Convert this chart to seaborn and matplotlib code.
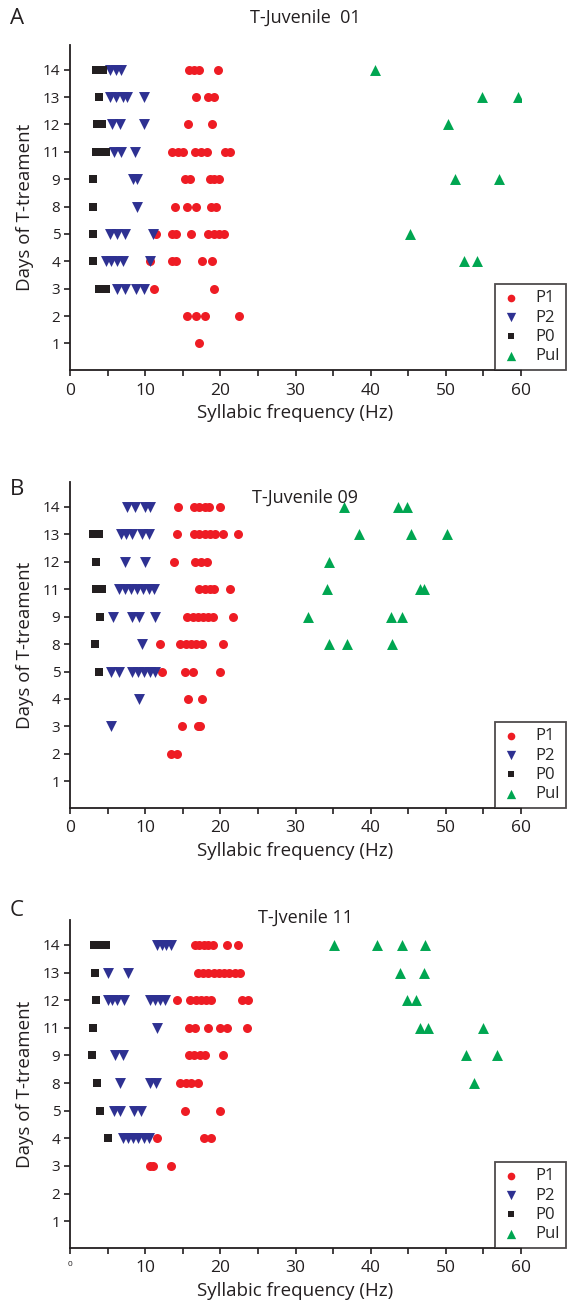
import matplotlib
matplotlib.use("Agg")
import matplotlib.pyplot as plt
import pandas as pd
import seaborn as sns

# day labels shown on the y axis (categorical, evenly spaced)
days = [1, 2, 3, 4, 5, 8, 9, 11, 12, 13, 14]

series_names = ["P1", "P2", "P0", "Pul"]
series_colors = {"P1": "#ee1c24", "P2": "#2e3192", "P0": "#231f20", "Pul": "#00a651"}
series_markers = {"P1": "o", "P2": "v", "P0": "s", "Pul": "^"}
series_sizes = {"P1": 42, "P2": 62, "P0": 34, "Pul": 62}

# ---- panel A : T-Juvenile 01 (syllabic frequency in Hz per day)
a_p1 = {14: [15.8, 16.5, 17.2, 19.7], 13: [16.7, 18.4, 19.2], 12: [15.7, 18.9],
        11: [13.6, 14.4, 15.0, 16.6, 17.4, 18.2, 20.6, 21.3],
        9: [15.3, 16.0, 18.6, 19.2, 19.8], 8: [14.0, 15.5, 16.8, 18.8, 19.4],
        5: [11.4, 13.6, 14.1, 16.1, 18.4, 19.1, 19.8, 20.5],
        4: [10.6, 13.6, 14.1, 17.5, 18.9], 3: [11.2, 19.1],
        2: [15.5, 16.8, 17.9, 22.5], 1: [17.2]}
a_p2 = {14: [5.3, 6.1, 6.8], 13: [5.3, 6.1, 7.0, 7.6, 9.8], 12: [5.6, 6.6, 9.8],
        11: [5.8, 6.8, 8.6], 9: [8.4, 8.9], 8: [8.9], 5: [5.3, 6.3, 7.3, 11.1],
        4: [4.8, 5.5, 6.3, 7.0, 10.6], 3: [6.3, 7.3, 8.8, 9.8]}
a_p0 = {14: [3.4, 4.4], 13: [3.8], 12: [3.6, 4.2], 11: [3.4, 4.1, 4.8], 9: [3.0],
        8: [3.0], 5: [3.0], 4: [3.0], 3: [3.9, 4.8]}
a_pul = {14: [40.6], 13: [54.8, 59.6], 12: [50.3], 9: [51.2, 57.1], 5: [45.2],
         4: [52.4, 54.1]}

# ---- panel B : T-Juvenile 09
b_p1 = {14: [14.4, 16.5, 17.2, 17.9, 18.5, 19.9],
        13: [14.3, 16.5, 17.2, 17.9, 18.6, 19.3, 20.4, 22.4],
        12: [13.9, 16.6, 17.4, 18.2], 11: [17.2, 17.9, 18.6, 19.2, 21.3],
        9: [15.6, 16.3, 17.0, 17.7, 18.4, 19.0, 21.7],
        8: [12.0, 14.7, 15.4, 16.1, 16.8, 17.5, 20.3],
        5: [12.3, 15.3, 16.4, 19.9], 4: [15.7, 17.5], 3: [14.9, 17.0, 17.3],
        2: [13.5, 14.3]}
b_p2 = {14: [7.6, 8.7, 10.0, 10.7], 13: [6.8, 7.5, 8.3, 9.6, 10.5], 12: [7.3, 10.0],
        11: [6.5, 7.3, 8.1, 8.9, 9.7, 10.5, 11.2], 9: [5.7, 8.3, 9.2, 11.3],
        8: [9.6], 5: [5.4, 6.5, 8.3, 9.1, 9.9, 10.7, 11.3], 4: [9.2], 3: [5.5]}
b_p0 = {13: [3.0, 3.8], 12: [3.5], 11: [3.4, 4.3], 9: [4.0], 8: [3.3], 5: [3.9]}
b_pul = {14: [36.5, 43.6, 44.9], 13: [38.4, 45.3, 50.1], 12: [34.4],
         11: [34.2, 46.6, 47.1], 9: [31.7, 42.7, 44.2], 8: [34.5, 36.8, 42.8]}

# ---- panel C : T-Jvenile 11
c_p1 = {14: [16.6, 17.2, 17.8, 18.4, 19.0, 20.9, 22.3],
        13: [17.0, 17.7, 18.4, 19.1, 19.8, 20.5, 21.2, 21.9, 22.6],
        12: [14.3, 16.0, 16.7, 17.4, 18.1, 18.7, 22.9, 23.7],
        11: [15.8, 16.6, 18.4, 20.0, 20.9, 23.5],
        9: [15.8, 16.5, 17.3, 18.0, 20.4], 8: [14.7, 15.4, 16.1, 17.0],
        5: [15.3, 19.9], 4: [11.6, 17.8, 18.7], 3: [10.6, 11.1, 13.5]}
c_p2 = {14: [11.6, 12.2, 12.8, 13.4], 13: [5.1, 7.7],
        12: [5.0, 5.6, 6.3, 7.2, 10.6, 11.3, 12.0, 12.6], 11: [11.6],
        9: [6.0, 7.0], 8: [6.7, 10.6, 11.4], 5: [5.9, 6.6, 8.5, 9.4],
        4: [7.0, 7.7, 8.4, 9.1, 9.8, 10.5]}
c_p0 = {14: [3.2, 4.0, 4.8], 13: [3.3], 12: [3.5], 11: [3.1], 9: [2.9], 8: [3.6],
        5: [4.0], 4: [5.1]}
c_pul = {14: [35.1, 40.9, 44.2, 47.2], 13: [43.9, 47.1], 12: [44.9, 46.0],
         11: [46.5, 47.6, 55.0], 9: [52.7, 56.8], 8: [53.7]}

panels = [
    ("A", "T-Juvenile  01", {"P1": a_p1, "P2": a_p2, "P0": a_p0, "Pul": a_pul}),
    ("B", "T-Juvenile 09", {"P1": b_p1, "P2": b_p2, "P0": b_p0, "Pul": b_pul}),
    ("C", "T-Jvenile 11", {"P1": c_p1, "P2": c_p2, "P0": c_p0, "Pul": c_pul}),
]

x_ticks = [0, 10, 20, 30, 40, 50, 60]


def to_frame(data):
    rows = []
    for name in series_names:
        for day, values in data[name].items():
            for hz in values:
                rows.append({"series": name, "day": day, "pos": days.index(day), "hz": hz})
    return pd.DataFrame(rows)


sns.set_style("white")
plt.rcParams["font.family"] = ["Open Sans", "DejaVu Sans"]

W, H = 568, 1301
fig = plt.figure(figsize=(W / 100, H / 100), dpi=100)

# pixel layout per panel: axis top, axis bottom, letter y, title y
boxes = [(45, 370, 18, 18), (482, 808, 490, 498), (920, 1248, 910, 918)]
x0_px, x1_px = 70, 521
ink = "#231f20"

for i, (letter, title, data) in enumerate(panels):
    top, bottom, letter_y, title_y = boxes[i]
    ax = fig.add_axes([x0_px / W, 1 - bottom / H, (x1_px - x0_px) / W, (bottom - top) / H])
    df = to_frame(data)
    for name in series_names:
        sub = df[df["series"] == name]
        sns.scatterplot(data=sub, x="hz", y="pos", ax=ax, color=series_colors[name],
                        marker=series_markers[name], s=series_sizes[name],
                        linewidth=0, label=name, zorder=3)
    ax.set_xlim(0, 60)
    ax.set_ylim(-0.97, 10.9)
    ax.set_yticks(range(len(days)))
    ax.set_yticklabels([str(d) for d in days], fontsize=11)
    ax.set_xticks(x_ticks)
    ax.set_xticks([5, 15, 25, 35, 45, 55], minor=True)
    ax.set_xticklabels([str(t) for t in x_ticks], fontsize=12.5)
    if letter == "C":
        ax.get_xticklabels()[0].set_fontsize(6)
    ax.tick_params(axis="both", which="both", direction="out", length=4, width=1.2,
                   bottom=True, left=True, colors=ink, pad=3)
    ax.tick_params(axis="x", which="both", pad=5)
    for side in ["top", "right"]:
        ax.spines[side].set_visible(False)
    for side in ["left", "bottom"]:
        ax.spines[side].set_linewidth(1.3)
        ax.spines[side].set_color(ink)
    ax.set_xlabel("Syllabic frequency (Hz)", fontsize=13.5, labelpad=4, color=ink)
    ax.set_ylabel("Days of T-treament", fontsize=13.5, labelpad=6, color=ink)
    ax.patch.set_alpha(0)

    leg_bottom = bottom
    ax.legend(loc="lower right", bbox_to_anchor=(566 / W, 1 - leg_bottom / H),
              bbox_transform=fig.transFigure, frameon=True, fancybox=False,
              edgecolor=ink, fontsize=12, handletextpad=0.8,
              borderpad=0.35, labelspacing=0.2, handlelength=1.3, markerscale=0.85,
              borderaxespad=0)
    ax.get_legend().get_frame().set_linewidth(1.3)

    fig.text(10 / W, 1 - letter_y / H, letter, fontsize=16, va="center", ha="left",
             color=ink)
    fig.text(305 / W, 1 - title_y / H, title, fontsize=13, va="center", ha="center",
             color=ink)

fig.savefig("out.png", dpi=100)
